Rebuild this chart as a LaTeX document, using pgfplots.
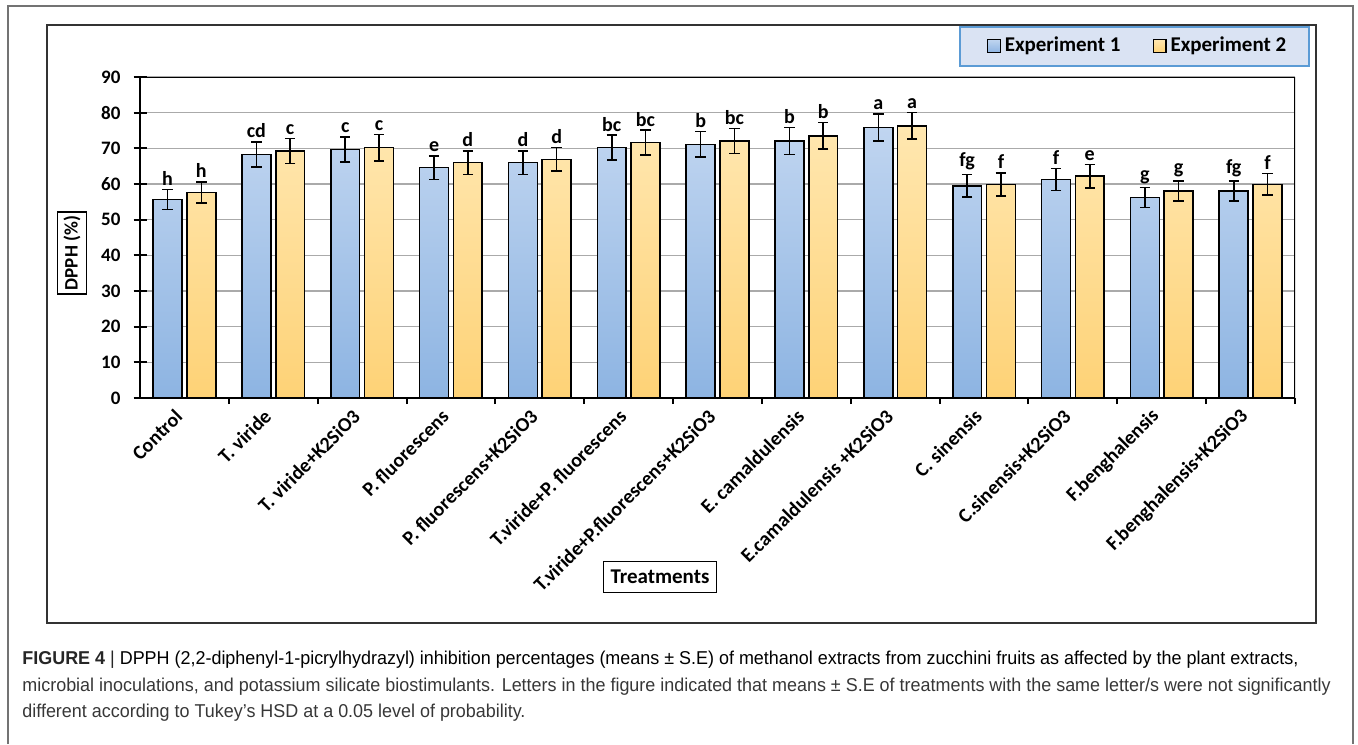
\documentclass[border=0pt]{standalone}
\usepackage{pgfplots}
\pgfplotsset{compat=1.18}
\usepackage{pgfplotstable}
\usepackage{graphicx}
\usepackage{fontspec}
\setmainfont{Carlito}
\newfontfamily\capfont{Liberation Sans}

\definecolor{expAtop}{RGB}{192,213,240}
\definecolor{expAbot}{RGB}{141,180,226}
\definecolor{expBtop}{RGB}{255,231,176}
\definecolor{expBbot}{RGB}{254,210,118}
\definecolor{legfill}{RGB}{218,227,243}
\definecolor{legdraw}{RGB}{91,155,213}
\definecolor{gridgray}{RGB}{170,170,170}
\definecolor{captext}{RGB}{55,55,55}

% DPPH inhibition (%) means, standard errors and Tukey letters
\pgfplotstableread{
x y e lab
0 55.7 2.8 h
1 68.3 3.5 cd
2 69.7 3.5 c
3 64.6 3.3 e
4 66.0 3.3 d
5 70.2 3.5 bc
6 71.1 3.6 b
7 72.1 3.8 b
8 75.8 3.8 a
9 59.5 3.2 fg
10 61.3 3.1 f
11 56.2 2.8 g
12 58.0 2.8 fg
}\expone

\pgfplotstableread{
x y e lab
0 57.6 3.0 h
1 69.3 3.5 c
2 70.2 3.7 c
3 66.0 3.3 d
4 66.9 3.3 d
5 71.6 3.5 bc
6 72.1 3.5 bc
7 73.5 3.7 b
8 76.3 3.7 a
9 59.9 3.2 f
10 62.2 3.3 e
11 58.0 2.8 g
12 59.9 3.0 f
}\exptwo

\newsavebox\capA
\newcommand\capsize{\capfont\fontsize{9.3}{11}\selectfont}

\begin{document}
% caption lines share one horizontal compression factor
\sbox\capA{\capsize\textcolor{black!85}{\textbf{FIGURE 4} |} DPPH (2,2-diphenyl-1-picrylhydrazyl) inhibition percentages (means ± S.E) of methanol extracts from zucchini fruits as affected by the plant extracts,}%
\pgfmathsetmacro\capscale{638/\wd\capA}%
\begin{tikzpicture}
\begin{scope}[x=0.5pt,y=-0.5pt]
  \path[use as bounding box] (0,0) rectangle (1358,744);
  % outer figure frame
  \draw[black!55, line width=0.7pt] (8,744) -- (8,6) -- (1353,6) -- (1353,744);
  % chart area frame
  \draw[black!80, line width=1pt] (47,25) rectangle (1316,623);
  % legend panel
  \draw[legdraw, fill=legfill, line width=1pt] (960,27) rectangle (1309,66);
  % axis title boxes
  \node[draw=black, line width=0.7pt, rotate=90, inner xsep=2pt, inner ysep=3pt,
        font=\bfseries\fontsize{9.5}{11}\selectfont] at (72,253) {DPPH (\%)};
  \node[draw=black, line width=0.7pt, inner xsep=3.5pt, minimum height=15.5pt,
        font=\bfseries\fontsize{10.5}{12}\selectfont] at (660,577) {Treatments};
\end{scope}

\begin{axis}[
  at={(70pt,-199pt)}, anchor=south west,
  scale only axis, width=577.5pt, height=160.5pt,
  xmin=-0.5, xmax=12.5, ymin=0, ymax=90,
  axis x line*=bottom, axis y line*=left,
  axis line style={black, line width=1.3pt},
  ytick={0,10,...,90},
  ymajorgrids, grid style={gridgray, line width=0.6pt},
  tick align=center, major tick length=6.5pt,
  ytick style={black, line width=1pt},
  xtick={0,...,12},
  xtick style={draw=none},
  xticklabels={Control, T. viride, T. viride+K2SiO3, P. fluorescens,
    P. fluorescens+K2SiO3, T.viride+P. fluorescens,
    T.viride+P.fluorescens+K2SiO3, E. camaldulensis,
    E.camaldulensis +K2SiO3, C. sinensis, C.sinensis+K2SiO3,
    F.benghalensis, F.benghalensis+K2SiO3},
  extra x ticks={0.5,1.5,...,12.5},
  extra x tick labels={},
  extra x tick style={grid=none, tick align=outside, major tick length=3pt,
    xtick style={draw=black, line width=1pt}},
  /pgf/number format/assume math mode=true,
  yticklabel style={font=\bfseries\fontsize{9.5}{11}\selectfont, xshift=-3pt},
  xticklabel style={font=\bfseries\fontsize{10}{12}\selectfont,
    xshift=-2pt, yshift=-3.5pt, rotate=45, anchor=east, inner sep=1pt},
  bar width=0.325,
  legend columns=2,
  legend style={at={(0.8645,1.0966)}, anchor=center, draw=none, fill=none,
    font=\bfseries\fontsize{10.5}{12}\selectfont,
    /tikz/every even column/.append style={column sep=14pt}},
  legend image code/.code={\draw[#1, line width=0.6pt] (0pt,-3.2pt) rectangle (6.4pt,3.2pt);},
]
\addplot[ybar, bar shift=-0.19, draw=black, line width=0.8pt,
  top color=expAtop, bottom color=expAbot] table[x=x, y=y] {\expone};
\addlegendentry{Experiment 1}
\addplot[ybar, bar shift=0.19, draw=black, line width=0.8pt,
  top color=expBtop, bottom color=expBbot] table[x=x, y=y] {\exptwo};
\addlegendentry{Experiment 2}

% standard error bars
\addplot[draw=none, mark=none, forget plot,
  error bars/.cd, y dir=both, y explicit,
  error bar style={draw=black, line width=0.8pt},
  error mark options={rotate=90, draw=black, line width=0.8pt, mark size=2.6pt}]
  table[x expr=\thisrow{x}-0.19, y=y, y error=e] {\expone};
\addplot[draw=none, mark=none, forget plot,
  error bars/.cd, y dir=both, y explicit,
  error bar style={draw=black, line width=0.8pt},
  error mark options={rotate=90, draw=black, line width=0.8pt, mark size=2.6pt}]
  table[x expr=\thisrow{x}+0.19, y=y, y error=e] {\exptwo};

% Tukey letters above the error bars
\addplot[draw=none, mark=none, forget plot, nodes near coords,
  point meta=explicit symbolic,
  every node near coord/.append style={text=black, anchor=south, inner sep=1.8pt,
    font=\bfseries\fontsize{10}{11}\selectfont}]
  table[x expr=\thisrow{x}-0.19, y expr=\thisrow{y}+\thisrow{e}, meta=lab] {\expone};
\addplot[draw=none, mark=none, forget plot, nodes near coords,
  point meta=explicit symbolic,
  every node near coord/.append style={text=black, anchor=south, inner sep=1.8pt,
    font=\bfseries\fontsize{10}{11}\selectfont}]
  table[x expr=\thisrow{x}+0.19, y expr=\thisrow{y}+\thisrow{e}, meta=lab] {\exptwo};

% plot area border (top and right)
\draw[black, line width=0.7pt] (rel axis cs:0,1) -- (rel axis cs:1,1) -- (rel axis cs:1,0);
\end{axis}

\begin{scope}[x=0.5pt,y=-0.5pt]
  \node[anchor=base west, inner sep=0pt, text=captext] at (22,664)
    {\scalebox{\capscale}[1]{\usebox\capA}};
  \node[anchor=base west, inner sep=0pt, text=captext] at (22,691)
    {\scalebox{\capscale}[1]{\capsize
      microbial inoculations, and potassium silicate biostimulants. Letters in the figure indicated that means ± S.E of treatments with the same letter/s were not significantly}};
  \node[anchor=base west, inner sep=0pt, text=captext] at (22,717)
    {\scalebox{\capscale}[1]{\capsize
      different according to Tukey’s HSD at a 0.05 level of probability.}};
\end{scope}
\end{tikzpicture}
\end{document}
